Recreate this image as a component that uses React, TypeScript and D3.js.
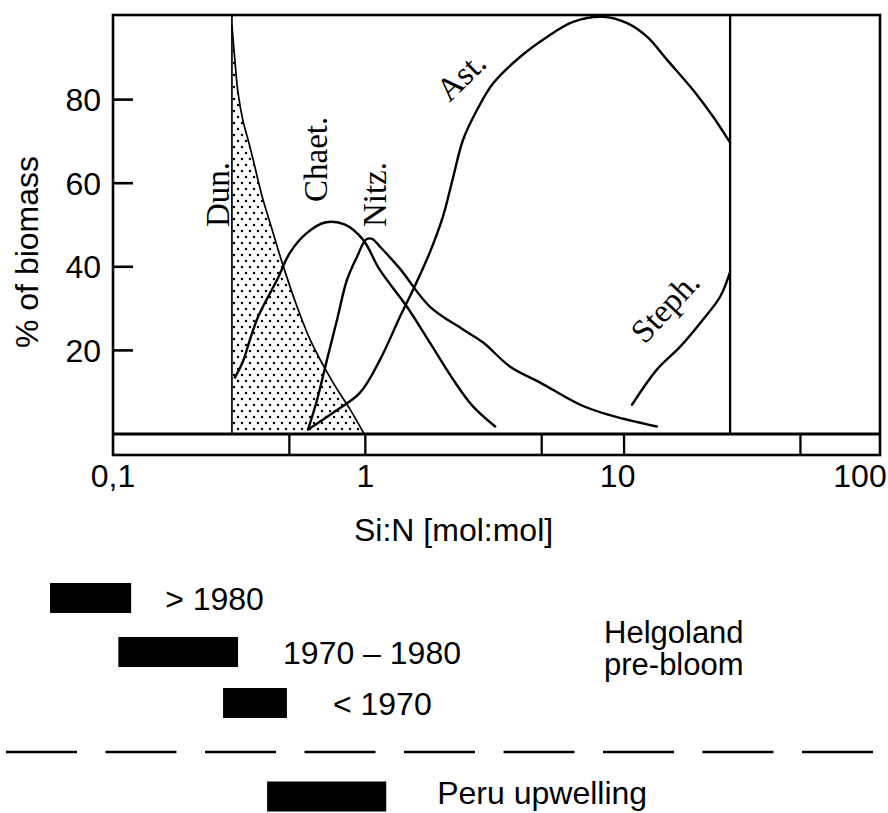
import React from 'react';
import * as d3 from 'd3';

type Pt = [number, number];

// Species curves: [Si:N ratio, % of biomass]
const dunData: Pt[] = [[0.296, 97.8], [0.304, 89.5], [0.313, 81.6], [0.327, 75.1], [0.343, 70.4], [0.359, 65.7], [0.39, 56.8], [0.427, 48.9], [0.468, 41.0], [0.536, 30.5], [0.604, 22.6], [0.745, 12.3], [0.87, 5.9], [0.99, 0]];
const chaetData: Pt[] = [[0.304, 13.5], [0.327, 17.3], [0.349, 22.6], [0.372, 27.4], [0.393, 30.5], [0.447, 36.9], [0.503, 43.4], [0.587, 48.1], [0.692, 50.6], [0.831, 50.1], [0.979, 46.5], [1.14, 39.3], [1.46, 30.5], [1.8, 21.9], [2.23, 13.0], [2.67, 6.6], [3.27, 1.8]];
const nitzData: Pt[] = [[0.593, 1.1], [0.644, 8.2], [0.705, 17.8], [0.773, 27.4], [0.846, 36.9], [0.927, 42.4], [1.006, 46.5], [1.063, 46.7], [1.144, 44.8], [1.373, 39.5], [1.8, 30.5], [2.44, 25.0], [2.93, 21.9], [3.75, 16.1], [4.93, 12.3], [7.1, 7.0], [9.08, 4.7], [14.3, 1.8]];
const astData: Pt[] = [[0.593, 1.1], [0.745, 5.1], [0.953, 9.9], [1.144, 17.8], [1.373, 28.1], [1.546, 34.5], [1.8, 43.4], [2.03, 52.0], [2.23, 61.5], [2.44, 70.4], [2.77, 77.5], [3.21, 83.9], [4.1, 90.2], [5.25, 95.0], [6.66, 98.6], [8.75, 99.8], [10.9, 98.3], [13.1, 95.0], [15.7, 89.5], [19.9, 82.3], [23.9, 75.9], [27.9, 69.7]];
const stephData: Pt[] = [[11.4, 7.0], [14.3, 15.4], [17.7, 20.9], [21.8, 27.4], [25.5, 32.9], [27.9, 38.8]];

const boundaryValues = [0.296, 27.9];
const stripTicks = [0.5, 1, 5, 10.6, 53];
const xTickValues = [0.1, 1, 10, 100];
const xTickLabels = ['0,1', '1', '10', '100'];
const yTickValues = [20, 40, 60, 80];

const speciesNames = ['Dun.', 'Chaet.', 'Nitz.', 'Ast.', 'Steph.'];

// Si:N ranges for the lower bars
const rangeLabels = ['> 1980', '1970 – 1980', '< 1970', 'Peru upwelling'];
const rangeLow = [0.0563, 0.105, 0.273, 0.408];
const rangeHigh = [0.118, 0.313, 0.489, 1.21];
const groupLabel = ['Helgoland', 'pre-bloom'];

const W = 888;
const H = 813;
const SANS = '"Liberation Sans", Arial, Helvetica, sans-serif';
const SERIF = '"Liberation Serif", "Times New Roman", Times, serif';

// layout of species labels (anchor in data coords, rotation)
const speciesLayout = [
  { x: 0.288, y: 49.5, rot: -90 },
  { x: 0.705, y: 55.5, rot: -90 },
  { x: 1.21, y: 49.5, rot: -90 },
  { x: 2.15, y: 79.2, rot: -44 },
  { x: 12.8, y: 21.3, rot: -47 },
];

const rowLayout = [
  { cy: 598, gap: 34, dy: 11.5 },
  { cy: 652, gap: 45, dy: 11.5 },
  { cy: 703, gap: 46, dy: 11.5 },
  { cy: 796.5, gap: 51, dy: 7 },
];

export default function App() {
  const x = d3.scaleLog().domain([0.1, 100]).range([113, 870]);
  const y = d3.scaleLinear().domain([0, 100]).range([434, 16]);
  const left = x(0.1);
  const right = 880;
  const top = y(100) - 1;
  const stripBottom = 455;
  const FS = 32;

  const curve = d3.curveCatmullRom.alpha(0.5);
  const line = d3.line<Pt>().x(d => x(d[0])).y(d => y(d[1])).curve(curve);
  const area = d3.area<Pt>().x(d => x(d[0])).y0(y(0)).y1(d => y(d[1])).curve(curve);

  const series = [dunData, chaetData, nitzData, astData, stephData];

  return (
    <div style={{ position: 'absolute', left: 0, top: 0 }}>
      <svg width={W} height={H} viewBox={`0 0 ${W} ${H}`} style={{ display: 'block', background: '#fff' }}>
        <defs>
          <pattern id="dots" width="8" height="12" patternUnits="userSpaceOnUse">
            <circle cx="2" cy="3" r="1.25" fill="#000" />
            <circle cx="6" cy="9" r="1.25" fill="#000" />
          </pattern>
        </defs>

        {/* Dun shaded area */}
        <path d={area(dunData) || ''} fill="url(#dots)" stroke="none" />

        {/* species curves */}
        {series.map((s, i) => (
          <path key={i} d={line(s) || ''} fill="none" stroke="#000" strokeWidth={i === 0 ? 1.7 : 2.4} strokeLinejoin="round" strokeLinecap="round" />
        ))}

        {/* boundary vertical lines */}
        {boundaryValues.map((v, i) => (
          <line key={i} x1={x(v)} x2={x(v)} y1={y(0)} y2={top} stroke="#000" strokeWidth={i === 0 ? 1.7 : 2.3} />
        ))}

        {/* frame */}
        <rect x={left} y={top} width={right - left} height={stripBottom - top} fill="none" stroke="#000" strokeWidth={2.6} />
        <line x1={left} x2={right} y1={y(0)} y2={y(0)} stroke="#000" strokeWidth={2.8} />
        {stripTicks.map((t, i) => (
          <line key={i} x1={x(t)} x2={x(t)} y1={y(0)} y2={stripBottom} stroke="#000" strokeWidth={2.3} />
        ))}

        {/* y ticks */}
        {yTickValues.map(v => (
          <g key={v}>
            <line x1={left} x2={left + 20} y1={y(v)} y2={y(v)} stroke="#000" strokeWidth={2.6} />
            <text x={101} y={y(v) + 11.5} textAnchor="end" fontFamily={SANS} fontSize={FS} fill="#000">{v}</text>
          </g>
        ))}
        <text transform="translate(38,252) rotate(-90)" textAnchor="middle" fontFamily={SANS} fontSize={FS} fill="#000">% of biomass</text>

        {/* x tick labels */}
        {xTickValues.map((v, i) => (
          <text key={v} x={x(v)} dx={i === xTickValues.length - 1 ? -10 : 0} y={487} textAnchor="middle" fontFamily={SANS} fontSize={FS} fill="#000">{xTickLabels[i]}</text>
        ))}
        <text x={354} y={541} fontFamily={SANS} fontSize={FS} fill="#000">Si:N [mol:mol]</text>

        {/* species labels */}
        {speciesNames.map((n, i) => {
          const L = speciesLayout[i];
          return (
            <text key={n} transform={`translate(${x(L.x)},${y(L.y)}) rotate(${L.rot})`} fontFamily={SERIF} fontSize={33} fill="#000">{n}</text>
          );
        })}

        {/* range bars */}
        {rangeLabels.map((lab, i) => {
          const R = rowLayout[i];
          const x0 = x(rangeLow[i]);
          const x1 = x(rangeHigh[i]);
          return (
            <g key={lab}>
              <rect x={x0} y={R.cy - 15} width={x1 - x0} height={30} fill="#000" />
              <text x={x1 + R.gap} y={R.cy + R.dy} fontFamily={SANS} fontSize={FS} fill="#000">{lab}</text>
            </g>
          );
        })}
        {groupLabel.map((t, i) => (
          <text key={t} x={604} y={643 + i * 32} fontFamily={SANS} fontSize={31} fill="#000">{t}</text>
        ))}

        {/* separator */}
        <line x1={6} x2={878} y1={752} y2={752} stroke="#000" strokeWidth={2.6} strokeDasharray="71 28.5" />
      </svg>
    </div>
  );
}
